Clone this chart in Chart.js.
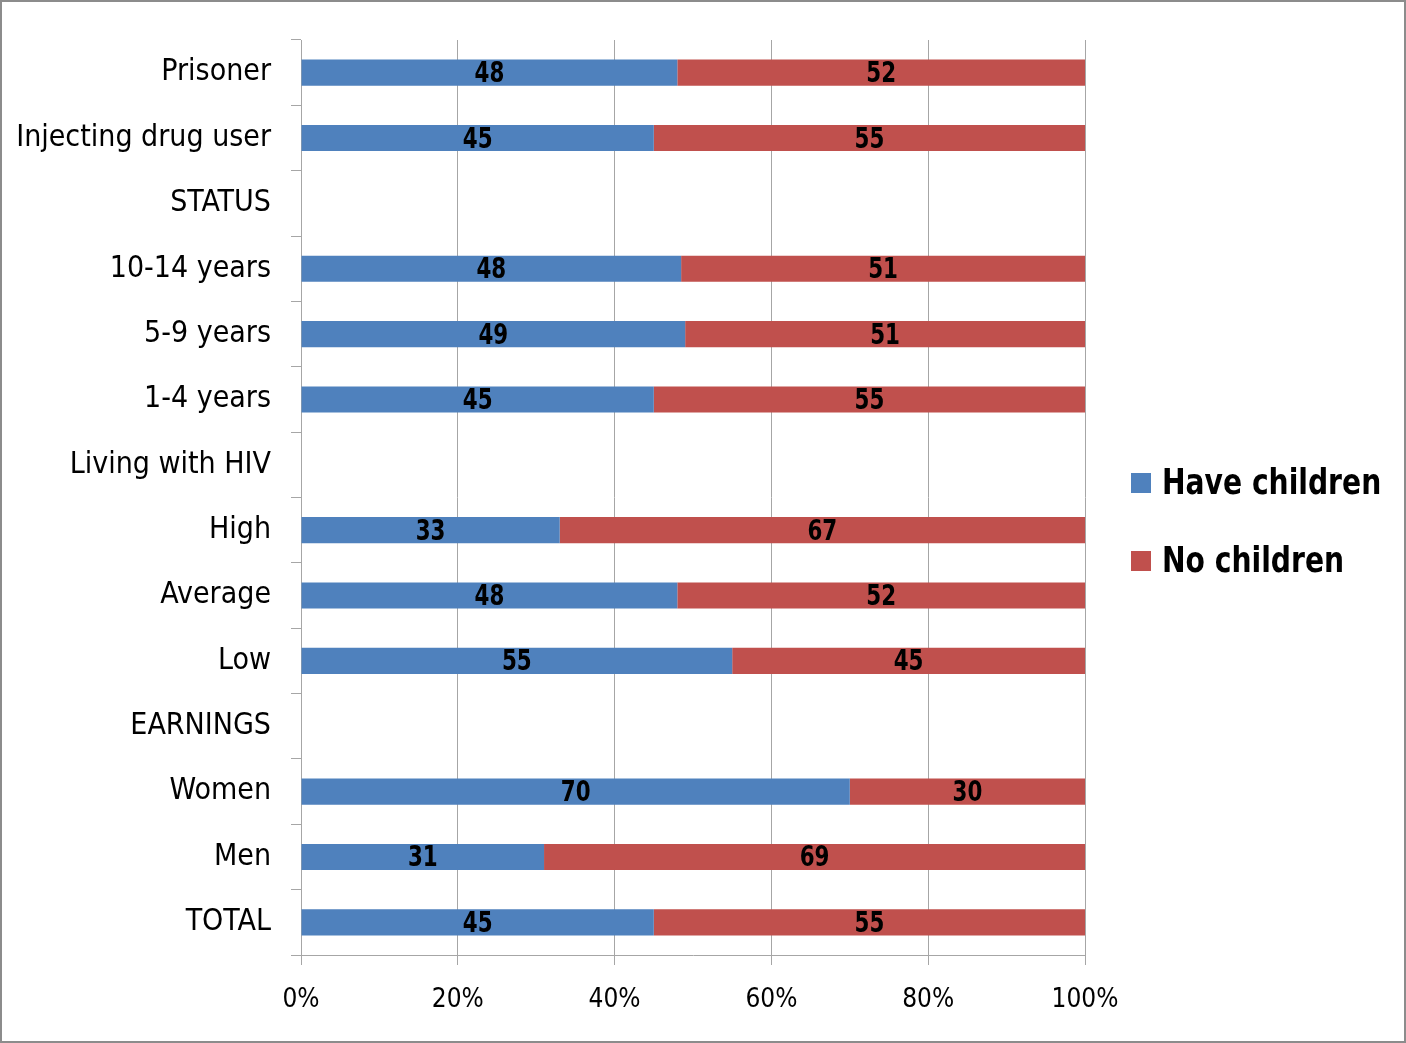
<!DOCTYPE html>
<html>
<head>
<meta charset="utf-8">
<script src="https://cdn.jsdelivr.net/npm/chart.js@4.4.1/dist/chart.umd.min.js"></script>
<style>
  html, body { margin: 0; padding: 0; background: #fff; }
  #wrap {
    width: 1406px; height: 1043px; box-sizing: border-box;
    border: 2px solid #8c8c8c; position: relative;
  }
  #chart { display: block; }
</style>
</head>
<body>
<div id="wrap"><canvas id="chart" width="1402" height="1039"></canvas></div>
<script>
const categories = [
  "Prisoner", "Injecting drug user", "STATUS", "10-14 years", "5-9 years",
  "1-4 years", "Living with HIV", "High", "Average", "Low", "EARNINGS",
  "Women", "Men", "TOTAL"
];
const haveChildren = [48, 45, null, 48, 49, 45, null, 33, 48, 55, null, 70, 31, 45];
const noChildren   = [52, 55, null, 51, 51, 55, null, 67, 52, 45, null, 30, 69, 55];
const xTicks = [0, 20, 40, 60, 80, 100];

const FONT = "'DejaVu Sans Condensed', 'Liberation Sans Narrow', 'Liberation Sans', sans-serif";

// 100% stacked: share of each row
function share(a, b, which) {
  return a.map((v, i) => {
    if (v == null) return null;
    const t = v + b[i];
    return (which === 0 ? v : b[i]) / t * 100;
  });
}

// draw text squeezed horizontally, like the condensed font of the original
function squeezed(c, text, x, y, sx) {
  c.save();
  c.translate(x, y);
  c.scale(sx, 1);
  c.fillText(text, 0, 0);
  c.restore();
}

const ctx = document.getElementById("chart");

const valueLabels = {
  id: "valueLabels",
  afterDatasetsDraw(chart) {
    const c = chart.ctx;
    c.save();
    c.font = "bold 29px " + FONT;
    c.fillStyle = "#000";
    c.textAlign = "center";
    c.textBaseline = "middle";
    chart.data.datasets.forEach((ds, di) => {
      const meta = chart.getDatasetMeta(di);
      meta.data.forEach((bar, i) => {
        const raw = ds.raw[i];
        if (raw == null) return;
        const p = bar.getProps(["x", "y", "base"], true);
        squeezed(c, String(raw), (p.x + p.base) / 2, p.y + 2, 0.82);
      });
    });
    c.restore();
  }
};

const sideLegend = {
  id: "sideLegend",
  afterDraw(chart) {
    const c = chart.ctx;
    c.save();
    c.font = "bold 36px " + FONT;
    c.textBaseline = "middle";
    c.textAlign = "left";
    const rows = [481, 559];
    chart.data.datasets.forEach((ds, i) => {
      c.fillStyle = ds.backgroundColor;
      c.fillRect(1129, rows[i] - 10, 20, 20);
      c.fillStyle = "#000";
      squeezed(c, ds.label, 1160, rows[i] + 2, 0.87);
    });
    c.restore();
  }
};

new Chart(ctx, {
  type: "bar",
  data: {
    labels: categories,
    datasets: [
      {
        label: "Have children",
        data: share(haveChildren, noChildren, 0),
        raw: haveChildren,
        backgroundColor: "#4F81BD",
      },
      {
        label: "No children",
        data: share(haveChildren, noChildren, 1),
        raw: noChildren,
        backgroundColor: "#C0504D",
      },
    ],
  },
  options: {
    indexAxis: "y",
    responsive: false,
    animation: false,
    events: [],
    barPercentage: 0.4,
    categoryPercentage: 1,
    layout: { padding: { top: 34, right: 319, left: 0, bottom: 0 } },
    scales: {
      x: {
        stacked: true,
        min: 0,
        max: 100,
        afterBuildTicks(axis) {
          axis.ticks = xTicks.map((v) => ({ value: v }));
        },
        afterFit(axis) { axis.height = 86; },
        ticks: {
          callback: (v) => v + "%",
          color: "#000",
          padding: 20,
          font: { family: FONT, size: 26 },
        },
        grid: { color: "#a6a6a6", lineWidth: 1, tickLength: 10 },
        border: { color: "#a6a6a6" },
      },
      y: {
        stacked: true,
        afterFit(axis) { axis.width = 299; },
        ticks: {
          color: "#000",
          padding: 20,
          font: { family: FONT, size: 30 },
        },
        grid: { drawOnChartArea: false, color: "#a6a6a6", tickLength: 10, offset: true },
        border: { color: "#a6a6a6" },
      },
    },
    plugins: {
      legend: { display: false },
      tooltip: { enabled: false },
    },
  },
  plugins: [valueLabels, sideLegend],
});
</script>
</body>
</html>
